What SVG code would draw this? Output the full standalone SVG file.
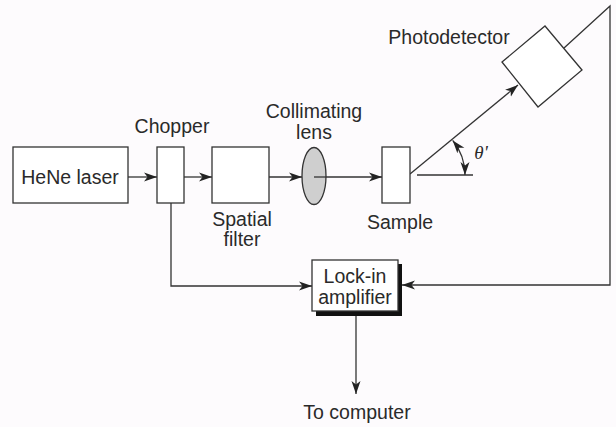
<svg xmlns="http://www.w3.org/2000/svg" width="616" height="427" viewBox="0 0 616 427">
<style>
.t{font-family:"Liberation Sans",Arial,sans-serif;font-size:19.5px;fill:#2a2a2a;text-anchor:middle}
.b{fill:#fff;stroke:#333;stroke-width:1.3}
.c{fill:none;stroke:#333;stroke-width:1.3}
</style>
<defs>
<marker id="ah" markerUnits="userSpaceOnUse" markerWidth="14" markerHeight="10" refX="13" refY="5" orient="auto-start-reverse">
<path d="M0,0.5 L13,5 L0,9.5 L3.5,5 Z" fill="#222"/>
</marker>
</defs>
<rect width="616" height="427" fill="#fdfbfd"/>
<g id="connectors">
<line class="c" x1="128" y1="177" x2="157" y2="177" marker-end="url(#ah)"/>
<line class="c" x1="184" y1="177" x2="212" y2="177" marker-end="url(#ah)"/>
<line class="c" x1="269" y1="177" x2="302" y2="177" marker-end="url(#ah)"/>
<line class="c" x1="314" y1="177" x2="382" y2="177" marker-end="url(#ah)"/>
<line class="c" x1="410" y1="174" x2="518" y2="85" marker-end="url(#ah)"/>
<line class="c" x1="417" y1="175" x2="473" y2="175"/>
<path class="c" d="M452.7,140.4 A55,55 0 0 1 465,175" marker-start="url(#ah)" marker-end="url(#ah)"/>
<polyline class="c" points="564,48 610,6 610,285 402,285" marker-end="url(#ah)"/>
<polyline class="c" points="171,203 171,286 312,286" marker-end="url(#ah)"/>
<line class="c" x1="356" y1="315" x2="356" y2="394" marker-end="url(#ah)"/>
</g>
<g id="laser">
<rect class="b" x="13" y="147" width="115" height="56"/>
<text class="t" x="70" y="184">HeNe laser</text>
</g>
<g id="chopper">
<rect class="b" x="157" y="147" width="27" height="56"/>
<text class="t" x="172" y="133">Chopper</text>
</g>
<g id="spatial-filter">
<rect class="b" x="212" y="147" width="57" height="56"/>
<text class="t" x="242" y="226">Spatial</text>
<text class="t" x="242" y="246">filter</text>
</g>
<g id="lens">
<ellipse cx="314" cy="176" rx="12" ry="28.5" fill="#cfcfcf" stroke="#333" stroke-width="1.3"/>
<line class="c" x1="314" y1="177" x2="326" y2="177"/>
<text class="t" x="314" y="118">Collimating</text>
<text class="t" x="314" y="139">lens</text>
</g>
<g id="sample">
<rect class="b" x="382" y="147" width="28" height="56"/>
<text class="t" x="400" y="229">Sample</text>
</g>
<g id="angle">
<text class="t" x="481" y="159" style="font-family:'Liberation Serif',serif;font-style:italic;font-size:19px">θ'</text>
</g>
<g id="photodetector">
<polygon class="b" points="502,62 545,26 582,70 538,107"/>
<text class="t" x="449" y="44">Photodetector</text>
</g>
<g id="lockin">
<rect x="316" y="264" width="86" height="52" fill="#111"/>
<rect class="b" x="312" y="260" width="86" height="51"/>
<text class="t" x="355" y="283">Lock-in</text>
<text class="t" x="355" y="304">amplifier</text>
</g>
<g id="computer">
<text class="t" x="357" y="419">To computer</text>
</g>
</svg>
